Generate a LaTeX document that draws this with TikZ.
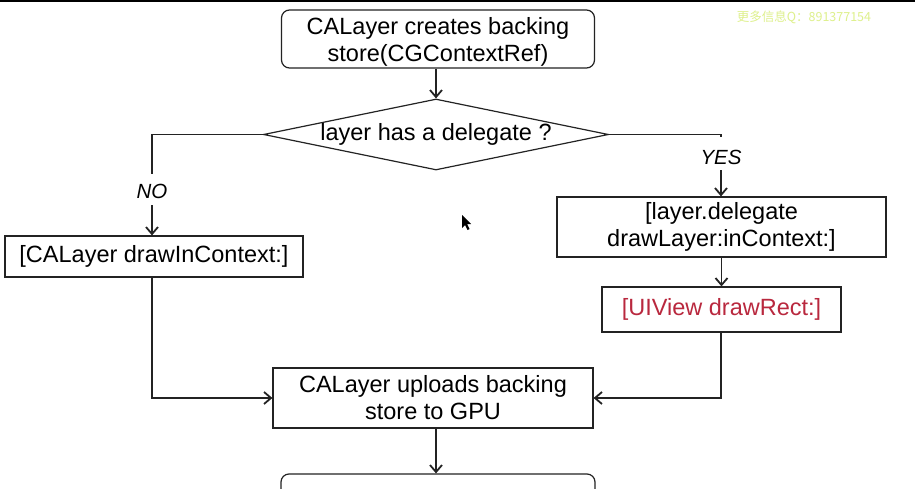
\documentclass[tikz,border=0pt]{standalone}
\usepackage{fontspec}
\setmainfont{Liberation Sans}
\newfontfamily\cjk{Noto Sans CJK SC}
\usetikzlibrary{arrows.meta,shapes.geometric}

\definecolor{inkline}{RGB}{35,35,35}
\definecolor{rectred}{RGB}{185,40,62}
\definecolor{wmark}{RGB}{222,240,140}

\tikzset{
  boxstyle/.style={draw=inkline, line width=1.2pt, fill=white, inner sep=2pt,
    align=center, font=\fontsize{23.5}{27}\selectfont},
  roundbox/.style={boxstyle, rounded corners=8pt},
  conn/.style={draw=inkline, line width=1.2pt},
  arr/.style={conn, -{Straight Barb[length=7pt,width=12pt,line width=1.8pt]}},
  branchlabel/.style={font=\fontsize{20.5}{24}\selectfont\itshape, inner sep=0pt},
}

\begin{document}
\begin{tikzpicture}[x=1pt,y=-1pt]
  \useasboundingbox (0,0) rectangle (915,489);
  \fill[white] (0,0) rectangle (915,489);
  \clip (0,0) rectangle (915,489);

  % top edge of the window
  \fill[black] (0,0) rectangle (915,2);

  % watermark
  \node[text=wmark, font=\cjk\fontsize{12.5}{14}\selectfont, inner sep=0pt]
    (wm) at (804,17) {更多信息Q：891377154};

  % flow nodes
  \node[roundbox, minimum width=313pt, minimum height=58pt] (create) at (438,39)
    {\raisebox{-4pt}[\height][\depth]{\begin{tabular}{@{}c@{}}CALayer creates backing\\store(CGContextRef)\end{tabular}}};
  \node[draw=inkline, line width=1.2pt, diamond, aspect=4.8, inner sep=0pt,
        minimum width=345pt, minimum height=71pt,
        font=\fontsize{23.5}{27}\selectfont] (dec) at (436,134.5)
    {layer has a delegate ?};
  \node[boxstyle, minimum width=298pt, minimum height=41pt] (calayer) at (154,256.5)
    {[CALayer drawInContext:]};
  \node[boxstyle, minimum width=329pt, minimum height=60pt] (delegate) at (721.5,227)
    {[layer.delegate\\drawLayer:inContext:]};
  \node[boxstyle, minimum width=239pt, minimum height=45pt, text=rectred] (uiview) at (721.5,309.5)
    {[UIView drawRect:]};
  \node[boxstyle, minimum width=320pt, minimum height=60pt] (upload) at (433,398)
    {CALayer uploads backing\\store to GPU};
  \node[roundbox, minimum width=314pt, minimum height=60pt] (next) at (438,504) {};

  % branch labels
  \node[branchlabel] (nolab) at (152,191) {NO};
  \node[branchlabel] (yeslab) at (721,157) {YES};

  % connectors
  \coordinate (noturn) at (152,134.5);
  \coordinate (yesturn) at (721,134.5);
  \draw[arr] (create.south -| dec.north) -- (dec.north);
  \draw[conn] (dec.west) -- (noturn) -- ([yshift=10pt]nolab.north);
  \draw[arr] ([yshift=-7pt]nolab.south) -- (nolab.south |- calayer.north);
  \draw[conn] (dec.east) -- (yesturn) -- ([yshift=-3pt]yesturn);
  \draw[arr] ([yshift=-6pt]yeslab.south) -- (yeslab.south |- delegate.north);
  \draw[arr] (delegate.south -| uiview.north) -- (uiview.north);
  \draw[arr] (calayer.south -| nolab.south) |- (upload.west);
  \draw[arr] (uiview.south -| yeslab.south) |- (upload.east);
  \draw[arr] (upload.south -| dec.south) -- (next.north -| dec.south);

  % mouse pointer
  \fill[black] (462,215) -- (462,228) -- (465,225) -- (467.5,230) -- (469.5,229)
    -- (467,224) -- (471,224) -- cycle;
\end{tikzpicture}
\end{document}
